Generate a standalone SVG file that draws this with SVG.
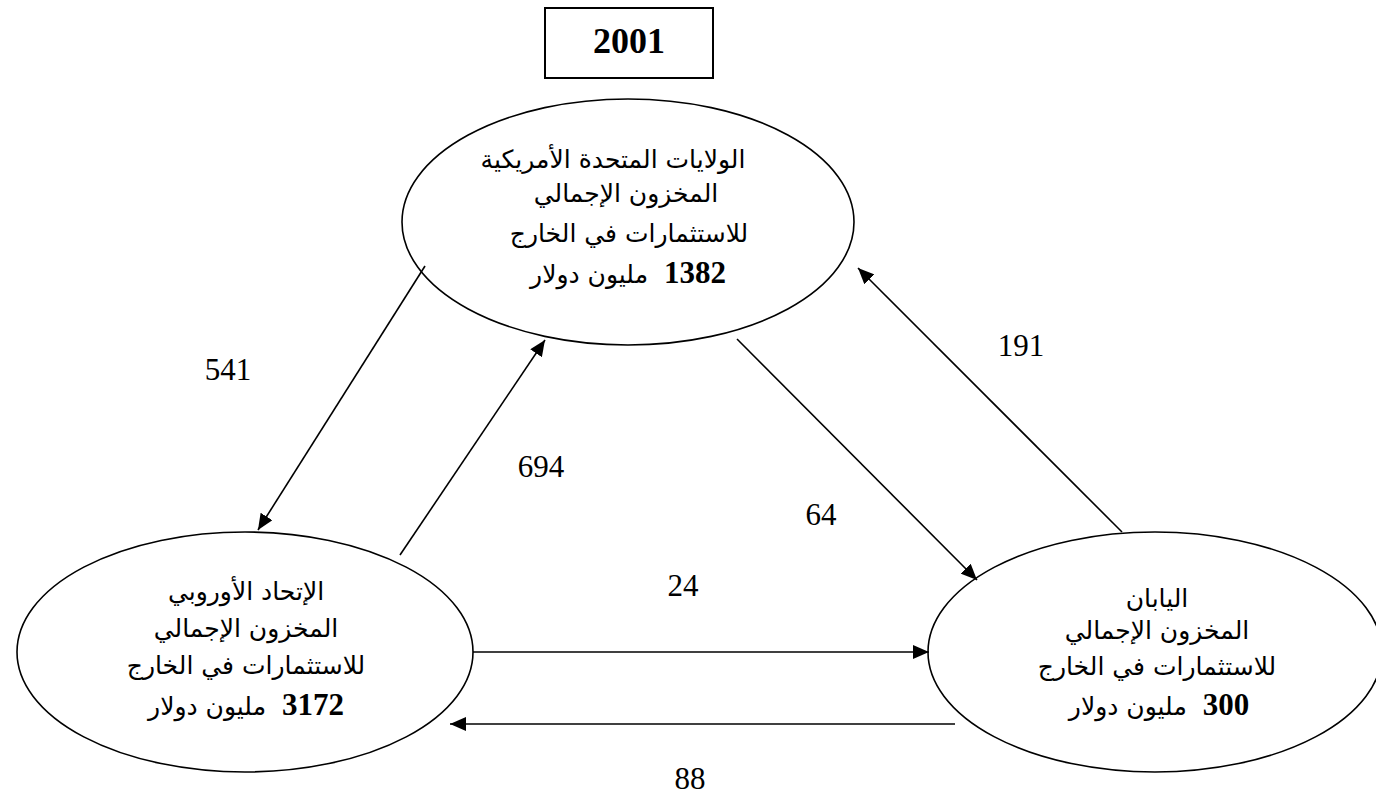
<svg xmlns="http://www.w3.org/2000/svg" width="1376" height="795" viewBox="0 0 1376 795">
  <style>
    .shape { fill: #ffffff; stroke: #000000; stroke-width: 1.6; }
    .box { fill: #ffffff; stroke: #000000; stroke-width: 2; }
    .ar { font-family: "DejaVu Sans", sans-serif; font-size: 25px; fill: #000000; direction: rtl; text-anchor: middle; }
    .num { font-family: "Liberation Serif", serif; font-weight: bold; font-size: 31px; }
    .lbl { font-family: "Liberation Serif", serif; font-size: 31px; fill: #000000; text-anchor: middle; }
    .year { font-family: "Liberation Serif", serif; font-weight: bold; font-size: 36px; fill: #000000; text-anchor: middle; }
    .link { stroke: #000000; stroke-width: 1.6; fill: none; marker-end: url(#head); }
  </style>
  <defs>
    <marker id="head" viewBox="0 0 16 14" refX="16" refY="7" markerWidth="16" markerHeight="14" markerUnits="userSpaceOnUse" orient="auto">
      <path d="M0,0 L16,7 L0,14 Z" fill="#000000"/>
    </marker>
  </defs>

  <!-- year caption -->
  <g id="year">
    <rect class="box" x="545" y="8" width="168" height="70"/>
    <text class="year" x="629" y="53">2001</text>
  </g>

  <!-- United States -->
  <g id="usa">
    <ellipse class="shape" cx="628" cy="222" rx="226" ry="123"/>
    <text class="ar" x="613" y="168">الولايات المتحدة الأمريكية</text>
    <text class="ar" x="626" y="202">المخزون الإجمالي</text>
    <text class="ar" x="629" y="242">للاستثمارات في الخارج</text>
    <text class="ar" x="628" y="283"><tspan class="num">1382</tspan>&#160;&#160;مليون دولار</text>
  </g>

  <!-- European Union -->
  <g id="eu">
    <ellipse class="shape" cx="245" cy="652" rx="228" ry="120"/>
    <text class="ar" x="246" y="600">الإتحاد الأوروبي</text>
    <text class="ar" x="246" y="637">المخزون الإجمالي</text>
    <text class="ar" x="246" y="674">للاستثمارات في الخارج</text>
    <text class="ar" x="246" y="715"><tspan class="num">3172</tspan>&#160;&#160;مليون دولار</text>
  </g>

  <!-- Japan -->
  <g id="japan">
    <ellipse class="shape" cx="1155" cy="652" rx="227" ry="120"/>
    <text class="ar" x="1157" y="607">اليابان</text>
    <text class="ar" x="1157" y="639">المخزون الإجمالي</text>
    <text class="ar" x="1157" y="675">للاستثمارات في الخارج</text>
    <text class="ar" x="1159" y="715"><tspan class="num">300</tspan>&#160;&#160;مليون دولار</text>
  </g>

  <!-- flows between the three regions -->
  <g id="connectors">
    <line class="link" x1="425" y1="266" x2="258" y2="530"/>
    <line class="link" x1="400" y1="555" x2="545" y2="340"/>
    <line class="link" x1="737" y1="339" x2="977" y2="580"/>
    <line class="link" x1="1122" y1="532" x2="858" y2="268"/>
    <line class="link" x1="473" y1="652" x2="929" y2="652"/>
    <line class="link" x1="955" y1="724" x2="450" y2="724"/>
  </g>

  <!-- flow values -->
  <g id="labels">
    <text class="lbl" x="228" y="380">541</text>
    <text class="lbl" x="541" y="477">694</text>
    <text class="lbl" x="1021" y="356">191</text>
    <text class="lbl" x="821" y="525">64</text>
    <text class="lbl" x="683" y="596">24</text>
    <text class="lbl" x="690" y="789">88</text>
  </g>
</svg>
